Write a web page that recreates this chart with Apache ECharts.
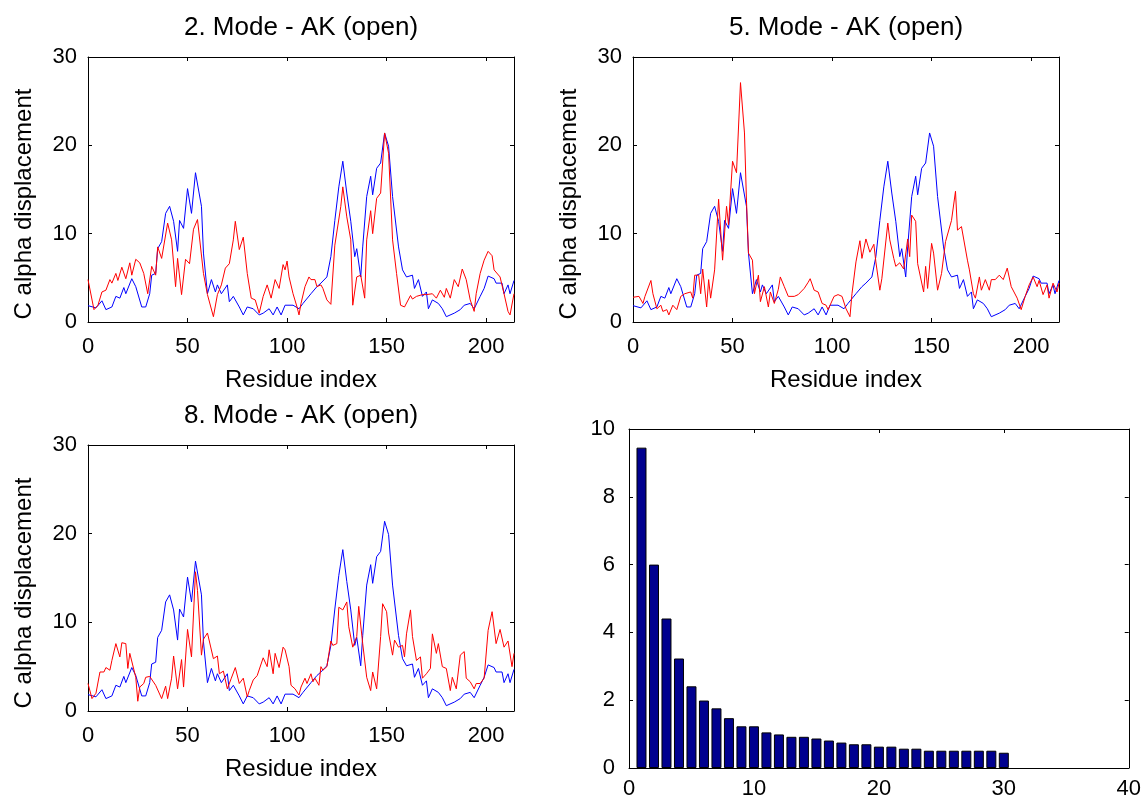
<!DOCTYPE html>
<html>
<head>
<meta charset="utf-8">
<script src="https://cdn.jsdelivr.net/npm/echarts@6/dist/echarts.min.js"></script>
<style>
  html, body { margin: 0; padding: 0; background: #fff; }
  #chart { width: 1144px; height: 803px; }
</style>
</head>
<body>
<div id="chart"></div>
<script>
// Reference C-alpha displacement (open vs closed form), shared by all three panels
const blueIdx = [0,4,7,9,12,14,16,18,19,22,24,27,29,31,32,34,35,37,39,41,43,45,46,48,50,52,54,57,58,60,62,64,65,67,70,71,73,76,78,80,83,86,88,91,93,95,97,99,103,106,108,112,115,117,120,122,124,126,128,130,132,134,135,137,138,140,142,143,145,147,149,151,153,156,158,160,163,164,166,168,170,171,173,176,178,180,184,187,189,192,194,197,199,201,204,205,208,209,211,212,214];
const blueDisp = [1.85,1.6,2.4,1.4,1.7,2.9,2.7,3.9,3.2,4.9,4.0,1.7,1.7,3.2,5.3,5.5,8.3,9.1,12.3,13.1,11.4,8.0,11.5,10.6,15.1,12.3,16.9,13.1,7.8,3.2,4.8,3.4,4.2,3.2,4.2,2.3,2.9,1.7,0.8,1.7,1.5,0.8,1.0,1.5,0.8,1.7,0.8,1.9,1.9,1.5,2.1,3.2,4.0,4.4,5.1,7.4,11.5,15.3,18.2,14.6,11.4,7.4,8.3,5.1,8.5,14.2,16.5,14.4,17.4,18.0,21.4,19.9,14.2,8.5,5.9,5.1,5.3,3.8,4.8,2.9,3.4,1.5,2.5,2.1,1.5,0.6,1.0,1.4,1.9,2.1,1.5,2.9,3.8,5.2,4.9,4.4,4.4,3.2,4.2,3.2,4.7];

// Mode 2 displacement
const mode2Idx = [0,3,5,7,9,11,12,14,15,17,19,21,22,24,26,28,30,32,34,35,37,40,42,44,45,47,49,51,53,55,58,60,63,65,67,69,71,73,74,76,78,80,82,84,86,88,90,92,94,96,98,99,100,101,103,105,106,107,109,111,112,114,115,117,118,120,122,124,127,128,130,132,133,135,137,139,140,142,143,145,147,149,151,153,155,157,159,162,163,165,168,170,173,175,177,179,180,182,184,186,188,190,192,194,195,197,199,201,203,204,207,209,211,212,214];
const mode2Disp = [4.8,1.4,1.9,3.4,3.6,4.8,4.4,5.5,4.7,6.2,4.9,6.7,5.3,7.1,6.7,5.5,3.2,6.3,5.3,8.5,7.2,11.2,9.3,4.0,7.2,3.1,7.1,6.6,10.5,11.6,5.5,3.1,0.6,3.1,4.2,6.1,6.6,9.3,11.4,8.2,9.6,5.5,2.7,2.5,1.0,2.9,4.2,2.7,4.8,3.8,6.5,5.9,6.9,5.1,3.2,1.7,0.8,2.1,4.0,5.1,4.8,4.8,4.0,4.2,3.8,2.5,2.0,8.7,13.1,15.3,11.9,9.3,1.9,5.1,5.3,2.7,9.3,12.6,10.0,14.0,14.6,21.4,19.1,9.3,5.5,1.9,1.7,3.0,2.6,2.9,3.1,3.1,3.2,2.7,3.6,2.8,3.8,2.7,4.8,4.0,6.0,4.8,2.5,1.2,3.2,5.5,7.0,8.0,7.5,5.9,5.1,3.2,1.2,0.8,3.2];

// Mode 5 displacement
const mode5Idx = [0,3,5,6,9,10,12,14,15,17,18,20,22,24,26,29,30,31,33,34,35,37,38,39,41,43,45,47,48,50,52,54,56,57,58,60,61,63,64,66,68,69,71,73,74,76,77,78,81,83,86,88,89,91,93,95,97,98,101,103,105,107,109,110,112,114,115,117,119,121,122,124,125,128,129,131,132,134,136,138,139,140,142,143,146,147,148,150,151,153,155,157,158,160,162,163,165,168,169,171,172,174,175,177,179,180,182,184,186,188,190,193,195,197,199,201,203,204,206,208,209,211,213,214];
const mode5Disp = [2.8,2.9,2.1,2.9,4.7,3.2,1.5,1.9,1.2,1.4,0.8,1.9,1.4,2.9,3.2,3.4,2.7,5.3,5.3,3.2,6.0,1.7,4.8,2.7,5.9,13.9,7.0,13.1,11.0,18.2,16.9,27.1,21.4,13.8,7.8,7.0,3.2,5.3,2.3,4.0,1.7,3.4,2.1,3.7,5.1,4.0,4.0,2.9,2.9,3.1,3.8,4.5,4.9,3.6,3.4,2.1,1.9,1.4,2.9,3.1,2.9,1.5,0.6,3.2,6.8,9.2,7.2,9.4,7.9,8.8,6.8,3.6,4.9,11.2,9.3,7.2,6.3,6.7,6.0,9.4,7.4,12.1,11.4,6.6,3.4,6.3,3.8,8.9,7.8,3.6,5.5,9.1,8.9,11.5,14.8,10.4,10.8,7.0,5.9,3.2,2.7,5.1,3.6,4.8,3.6,4.8,4.8,5.3,4.8,6.1,4.0,2.7,1.4,2.9,4.2,5.1,4.0,4.7,3.1,4.2,2.7,4.4,3.4,4.4];

// Mode 8 displacement
const mode8Idx = [0,2,4,6,8,9,11,12,14,16,17,19,20,21,22,24,25,26,28,29,31,34,35,37,39,40,42,43,45,47,48,50,52,54,55,57,58,60,61,63,65,66,68,70,72,74,76,78,80,81,83,85,86,88,90,91,93,94,96,98,99,101,102,104,106,107,109,110,112,113,114,116,117,118,120,122,123,125,126,128,130,131,133,135,136,138,140,142,143,145,147,148,150,151,153,154,156,158,159,160,162,163,165,167,168,170,172,173,175,176,178,180,182,183,185,187,189,190,192,194,195,197,199,201,203,205,207,209,211,213,214];
const mode8Disp = [3.1,1.4,2.0,4.4,4.4,4.9,4.6,5.7,7.6,6.1,7.7,7.6,4.8,6.5,6.5,3.8,1.1,2.7,3.1,3.8,3.9,2.9,2.7,1.4,2.8,1.4,3.7,6.2,2.5,5.8,2.7,9.2,6.1,15.7,13.6,6.3,8.1,8.8,8.8,5.9,6.2,4.2,4.5,2.5,3.7,4.9,3.1,3.7,1.6,2.3,3.5,4.0,3.8,6.0,5.0,6.9,4.2,6.5,4.9,7.2,6.9,5.0,2.9,2.5,1.8,2.7,3.7,3.1,4.2,3.3,3.7,2.9,5.0,4.6,5.0,7.9,7.4,7.6,11.7,11.4,12.3,9.5,7.2,8.4,11.8,7.6,3.8,2.3,4.4,2.5,8.4,12.1,11.2,8.8,6.3,8.0,7.2,7.4,6.1,8.7,11.4,8.4,5.7,6.1,3.7,4.2,4.8,8.7,6.5,7.6,5.0,4.8,2.3,3.8,2.5,6.3,6.7,3.7,3.3,2.5,3.1,3.1,3.7,9.1,11.2,7.6,9.2,7.2,7.9,5.0,6.5];

// Per-mode values for the bar panel
const barIdx = [1,2,3,4,5,6,7,8,9,10,11,12,13,14,15,16,17,18,19,20,21,22,23,24,25,26,27,28,29,30];
const barVal = [9.45,6.0,4.41,3.23,2.41,1.99,1.76,1.47,1.23,1.23,1.05,0.99,0.92,0.92,0.87,0.81,0.75,0.70,0.70,0.63,0.63,0.57,0.57,0.51,0.51,0.51,0.51,0.51,0.51,0.45];

const panelTitles = ['2. Mode - AK (open)', '5. Mode - AK (open)', '8. Mode - AK (open)'];
const xName = 'Residue index';
const yName = 'C alpha displacement';

const FONT = '"Liberation Sans", Arial, Helvetica, sans-serif';
const TICK_FS = 22;
const NAME_FS = 24;
const TITLE_FS = 26;

const grids = [
  { left: 88,  top: 57,  width: 426, height: 265 },
  { left: 633, top: 57,  width: 426, height: 265 },
  { left: 88,  top: 445, width: 426, height: 266 },
  { left: 629, top: 429, width: 500, height: 339 }
];

function pairs(xs, ys) { return xs.map((x, i) => [x, ys[i]]); }

const xAxes = [], yAxes = [];
const lineBlack = { color: '#000', width: 1 };

// Four-sided boxed frame: labelled bottom/left axes, bare top/right axes, ticks pointing inward.
function frame(g, xr, yr, opts) {
  const xi = xAxes.length, yi = yAxes.length;
  const tick = { show: true, inside: true, length: 4, lineStyle: lineBlack };
  xAxes.push({
    type: 'value', gridIndex: g, position: 'bottom', min: xr[0], max: xr[1], interval: xr[2],
    axisLine: { show: true, onZero: false, lineStyle: lineBlack },
    axisTick: tick, splitLine: { show: false },
    axisLabel: { color: '#000', fontSize: TICK_FS, fontFamily: FONT, margin: opts.xMargin,
      formatter: v => (v % xr[2] === 0 ? String(v) : '') },
    name: opts.xName || '', nameLocation: 'middle', nameGap: 46,
    nameTextStyle: { color: '#000', fontSize: NAME_FS, fontFamily: FONT }
  });
  xAxes.push({
    type: 'value', gridIndex: g, position: 'top', min: xr[0], max: xr[1], interval: xr[2],
    axisLine: { show: true, onZero: false, lineStyle: lineBlack },
    axisTick: tick, axisLabel: { show: false }, splitLine: { show: false }
  });
  yAxes.push({
    type: 'value', gridIndex: g, position: 'left', min: yr[0], max: yr[1], interval: yr[2],
    axisLine: { show: true, onZero: false, lineStyle: lineBlack },
    axisTick: tick, splitLine: { show: false },
    axisLabel: { color: '#000', fontSize: TICK_FS, fontFamily: FONT, margin: opts.yMargin }
  });
  yAxes.push({
    type: 'value', gridIndex: g, position: 'right', min: yr[0], max: yr[1], interval: yr[2],
    axisLine: { show: true, onZero: false, lineStyle: lineBlack },
    axisTick: tick, axisLabel: { show: false }, splitLine: { show: false }
  });
  return { x: xi, y: yi };
}

const series = [];
const modeData = [[mode2Idx, mode2Disp], [mode5Idx, mode5Disp], [mode8Idx, mode8Disp]];
modeData.forEach((m, g) => {
  const ax = frame(g, [0, 214, 50], [0, 30, 10], { xMargin: 14, yMargin: 11, xName: xName });
  series.push({
    type: 'line', xAxisIndex: ax.x, yAxisIndex: ax.y, data: pairs(blueIdx, blueDisp),
    showSymbol: false, symbol: 'none', lineStyle: { color: '#0000FF', width: 1 }, z: 2
  });
  series.push({
    type: 'line', xAxisIndex: ax.x, yAxisIndex: ax.y, data: pairs(m[0], m[1]),
    showSymbol: false, symbol: 'none', lineStyle: { color: '#FF0000', width: 1 }, z: 3
  });
});

const barAx = frame(3, [0, 40, 10], [0, 10, 2], { xMargin: 10, yMargin: 14 });
series.push({
  type: 'bar', xAxisIndex: barAx.x, yAxisIndex: barAx.y, data: pairs(barIdx, barVal),
  barWidth: 10, itemStyle: { color: '#00008F', borderColor: '#000', borderWidth: 1 }
});

// Panel titles and rotated y-axis captions
const titleAt = [[301, 28], [846, 28], [301, 416]];
const yNameAt = [[24, 204], [569, 204], [24, 593]];
const graphic = [];
panelTitles.forEach((t, i) => {
  graphic.push({
    type: 'text', x: titleAt[i][0], y: titleAt[i][1],
    style: { text: t, fill: '#000', fontSize: TITLE_FS, fontFamily: FONT, align: 'center', verticalAlign: 'middle' }
  });
  graphic.push({
    type: 'text', x: yNameAt[i][0], y: yNameAt[i][1], rotation: Math.PI / 2,
    style: { text: yName, fill: '#000', fontSize: NAME_FS, fontFamily: FONT, align: 'center', verticalAlign: 'middle' }
  });
});

const chart = echarts.init(document.getElementById('chart'), null, { renderer: 'canvas' });
chart.setOption({
  backgroundColor: '#fff',
  animation: false,
  grid: grids,
  xAxis: xAxes,
  yAxis: yAxes,
  series: series,
  graphic: graphic
});
</script>
</body>
</html>
